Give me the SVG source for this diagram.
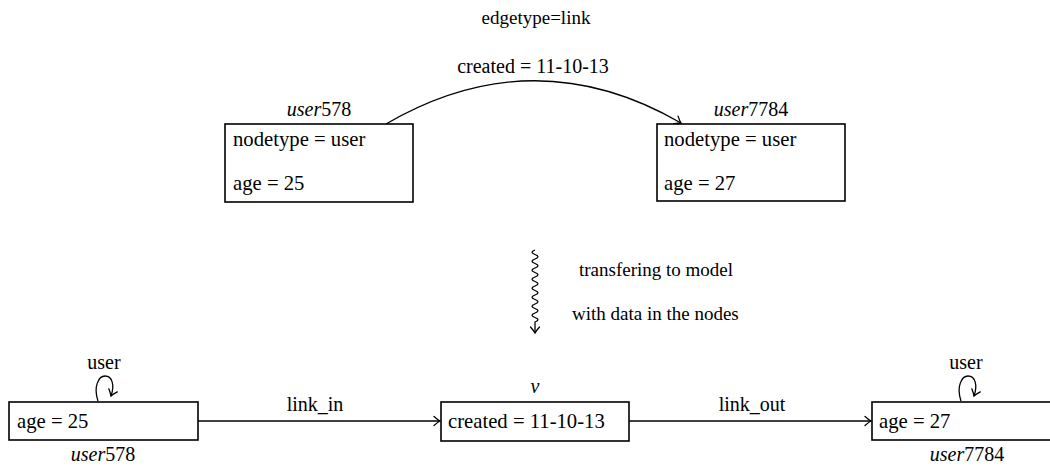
<svg xmlns="http://www.w3.org/2000/svg" width="1050" height="469" viewBox="0 0 1050 469" font-family="'Liberation Serif', 'DejaVu Serif', serif">
<style>
text{font-family:"Liberation Serif","DejaVu Serif",serif;font-size:20px;fill:#000}
.t{font-size:19px}
.n{font-size:20.7px}
.c{text-anchor:middle}
.i{font-style:italic}
.box{fill:#fff;stroke:#000;stroke-width:1.6}
.e{fill:none;stroke:#000;stroke-width:1.3}
</style>
<defs>
<marker id="ah" viewBox="-8 -6 10 12" refX="0" refY="0" markerWidth="10" markerHeight="12" markerUnits="userSpaceOnUse" orient="auto">
<path d="M-6,-4.5 Q-2,-1 0,0 Q-2,1 -6,4.5" fill="none" stroke="#000" stroke-width="1.3" stroke-linecap="round"/>
</marker>
</defs>
<text class="c t" x="536" y="24">edgetype=link</text>
<g id="connectors">
<path class="e" d="M386,124 Q534,38 681,123" marker-end="url(#ah)"/>
<text class="c" x="533" y="73">created = 11-10-13</text>
<path class="e" d="M535,250 q-6,2.25 0,4.5 q6,2.25 0,4.5 q-6,2.25 0,4.5 q6,2.25 0,4.5 q-6,2.25 0,4.5 q6,2.25 0,4.5 q-6,2.25 0,4.5 q6,2.25 0,4.5 q-6,2.25 0,4.5 q6,2.25 0,4.5 q-6,2.25 0,4.5 q6,2.25 0,4.5 q-6,2.25 0,4.5 q6,2.25 0,4.5 q-6,2.25 0,4.5 q6,2.25 0,4.5 l0,11" marker-end="url(#ah)"/>
<text class="t" x="579" y="276">transfering to model</text>
<text class="t" x="572" y="320">with data in the nodes</text>
<path class="e" d="M198,421 L440,421" marker-end="url(#ah)"/>
<text class="c" x="315" y="411">link_in</text>
<path class="e" d="M629,421 L871,421" marker-end="url(#ah)"/>
<text class="c" x="752" y="411">link_out</text>
<path class="e" d="M98,401 C93,386 99,376 105,376 C112,376 115,385 111,396" marker-end="url(#ah)"/>
<text class="c" x="104" y="369">user</text>
<path class="e" d="M961,401 C956,386 962,376 968,376 C975,376 978,385 974,396" marker-end="url(#ah)"/>
<text class="c" x="966" y="369">user</text>
</g>
<g id="n_user578_top">
<rect class="box" x="225" y="124" width="188" height="78"/>
<text class="c" x="319" y="116"><tspan class="i">user</tspan>578</text>
<text class="n" x="233" y="146">nodetype = user</text>
<text class="n" x="233" y="190">age = 25</text>
</g>
<g id="n_user7784_top">
<rect class="box" x="657" y="124" width="188" height="77"/>
<text class="c" x="751" y="116"><tspan class="i">user</tspan>7784</text>
<text class="n" x="664" y="146">nodetype = user</text>
<text class="n" x="664" y="190">age = 27</text>
</g>
<g id="n_user578">
<rect class="box" x="9" y="402" width="189" height="38"/>
<text class="n" x="17" y="428">age = 25</text>
<text class="c" x="103" y="461"><tspan class="i">user</tspan>578</text>
</g>
<g id="n_v">
<rect class="box" x="441" y="402" width="188" height="39"/>
<text class="c i" x="535" y="393">v</text>
<text class="n" x="448" y="428">created = 11-10-13</text>
</g>
<g id="n_user7784">
<rect class="box" x="872" y="402" width="189" height="38"/>
<text class="n" x="879" y="428">age = 27</text>
<text class="c" x="967" y="461"><tspan class="i">user</tspan>7784</text>
</g>
</svg>
